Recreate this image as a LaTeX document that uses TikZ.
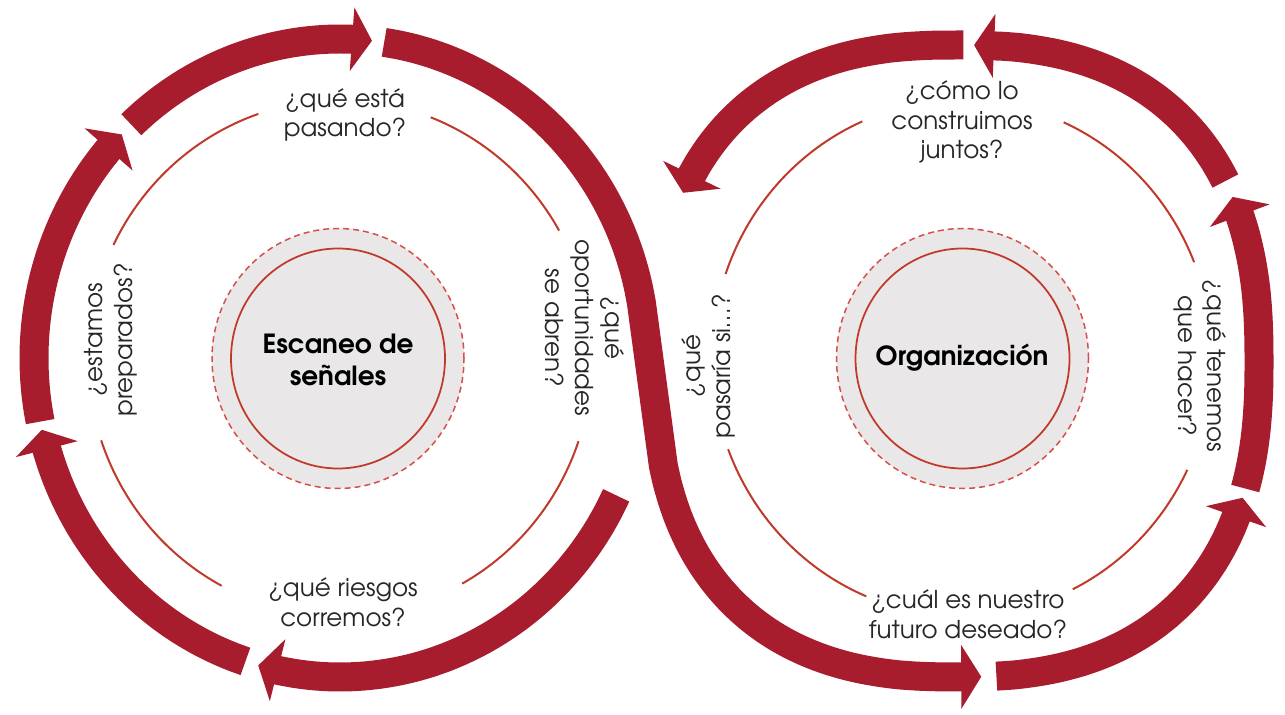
\documentclass[tikz,border=0pt]{standalone}
\usepackage{fontspec}
\setmainfont{texgyreadventor-regular.otf}[BoldFont=texgyreadventor-bold.otf]
\usetikzlibrary{arrows.meta}
\definecolor{bandred}{RGB}{168,29,46}
\definecolor{arcred}{RGB}{192,57,43}
\definecolor{dashred}{RGB}{214,80,75}
\definecolor{hubgray}{RGB}{233,231,231}
\definecolor{qgray}{RGB}{38,38,38}
\begin{document}
\begin{tikzpicture}[x=0.02cm, y=0.02cm,
  declare function={sx(\u,\w)=sign(cos(\u))*(abs(cos(\u))+0.00001)^\w;
                    sy(\u,\w)=sign(sin(\u))*(abs(sin(\u))+0.00001)^\w;},
  band/.style={draw=bandred, line width=0.58cm, -{Triangle[length=0.4cm, width=1.26cm]}},
  ring/.style={draw=arcred, line width=0.04cm},
  question/.style={align=center, text=qgray, font=\fontsize{14}{17}\selectfont},
  hub/.style={align=center, font=\fontsize{15}{18}\selectfont\bfseries}]
\useasboundingbox (0,0) rectangle (1285,714);
% centres of the two loops
\coordinate (lc) at (340,356);
\coordinate (rc) at (962,356);

% hubs
\draw[dashred, line width=0.03cm, dash pattern=on 0.12cm off 0.08cm, fill=hubgray] (338,355.5) ellipse [x radius=126, y radius=130];
\draw[arcred, line width=0.035cm] (338,355.5) ellipse [x radius=107, y radius=110];
\draw[dashred, line width=0.03cm, dash pattern=on 0.12cm off 0.08cm, fill=hubgray] (962.5,355.5) ellipse [x radius=126, y radius=130];
\draw[arcred, line width=0.035cm] (962.5,355.5) ellipse [x radius=107, y radius=110];
\node[hub] (escaneo) at (338,354) {Escaneo de\\señales};
\node[hub] (org) at (962,356) {Organización};

% thin inner rings
\foreach \a/\b in {29.6/68.9, 108.9/154, 198.6/242, 299/341.2}
  \draw[ring] (lc) ++(\a:252 and 258) arc[start angle=\a, end angle=\b, x radius=252, y radius=258];
\foreach \a/\b in {21.8/66, 113.5/161, 200.7/247.5, 296.3/334.3}
  \draw[ring] (rc) ++(\a:250 and 258) arc[start angle=\a, end angle=\b, x radius=250, y radius=258];

% questions
\node[question] (pasando) at (345,599) {¿qué está\\pasando?};
\node[question, rotate=-90] (oport) at (585,386) {¿qué\\oportunidades\\se abren?};
\node[question] (riesgos) at (343,112) {¿qué riesgos\\corremos?};
\node[question, rotate=90] (preparados) at (111,374) {¿estamos\\preparados?};
\node[question] (juntos) at (962,592) {¿cómo lo\\construimos\\juntos?};
\node[question, rotate=-90] (hacer) at (1200,348) {¿qué tenemos\\que hacer?};
\node[question] (futuro) at (968,100) {¿cuál es nuestro\\futuro deseado?};
\node[question, rotate=90] (pasaria) at (708,348) {¿qué\\pasaría si…?};

% outer arrows: curve up to the back of the head, then a short chord to the tip
\foreach \cx/\cy/\rx/\ry/\e/\from/\to in {
  340/356/306/319/1/133/84,
  340/356/306/319/1/334.5/254.5,
  340/356/306/319/1/252/193,
  340/356/306/319/1/191.5/135.5,
  957/353/302/316/0.816/274.7/339,
  957/353/302/316/0.816/-19.2/26.6,
  957/353/302/316/0.816/30.1/88.3,
  957/353/302/316/0.816/89.5/152.5}
{
  \pgfmathsetmacro\back{\to-4*sign(\to-\from)}
  \draw[band] plot[domain=\from:\back, samples=25, smooth, variable=\t]
    ({\cx+\rx*sx(\t,\e)}, {\cy+\ry*sy(\t,\e)})
    -- ({\cx+\rx*sx(\to,\e)}, {\cy+\ry*sy(\to,\e)});
}
% the band that crosses from one loop to the other
\draw[band] plot[domain=81.7:10, samples=25, smooth, variable=\t]
    ({340+306*sx(\t,1)}, {356+319*sy(\t,1)})
  -- plot[domain=195:268.6, samples=25, smooth, variable=\t]
    ({957+302*sx(\t,0.816)}, {353+316*sy(\t,0.816)})
  -- ({957+302*sx(272.6,0.816)}, {353+316*sy(272.6,0.816)});
\end{tikzpicture}
\end{document}
